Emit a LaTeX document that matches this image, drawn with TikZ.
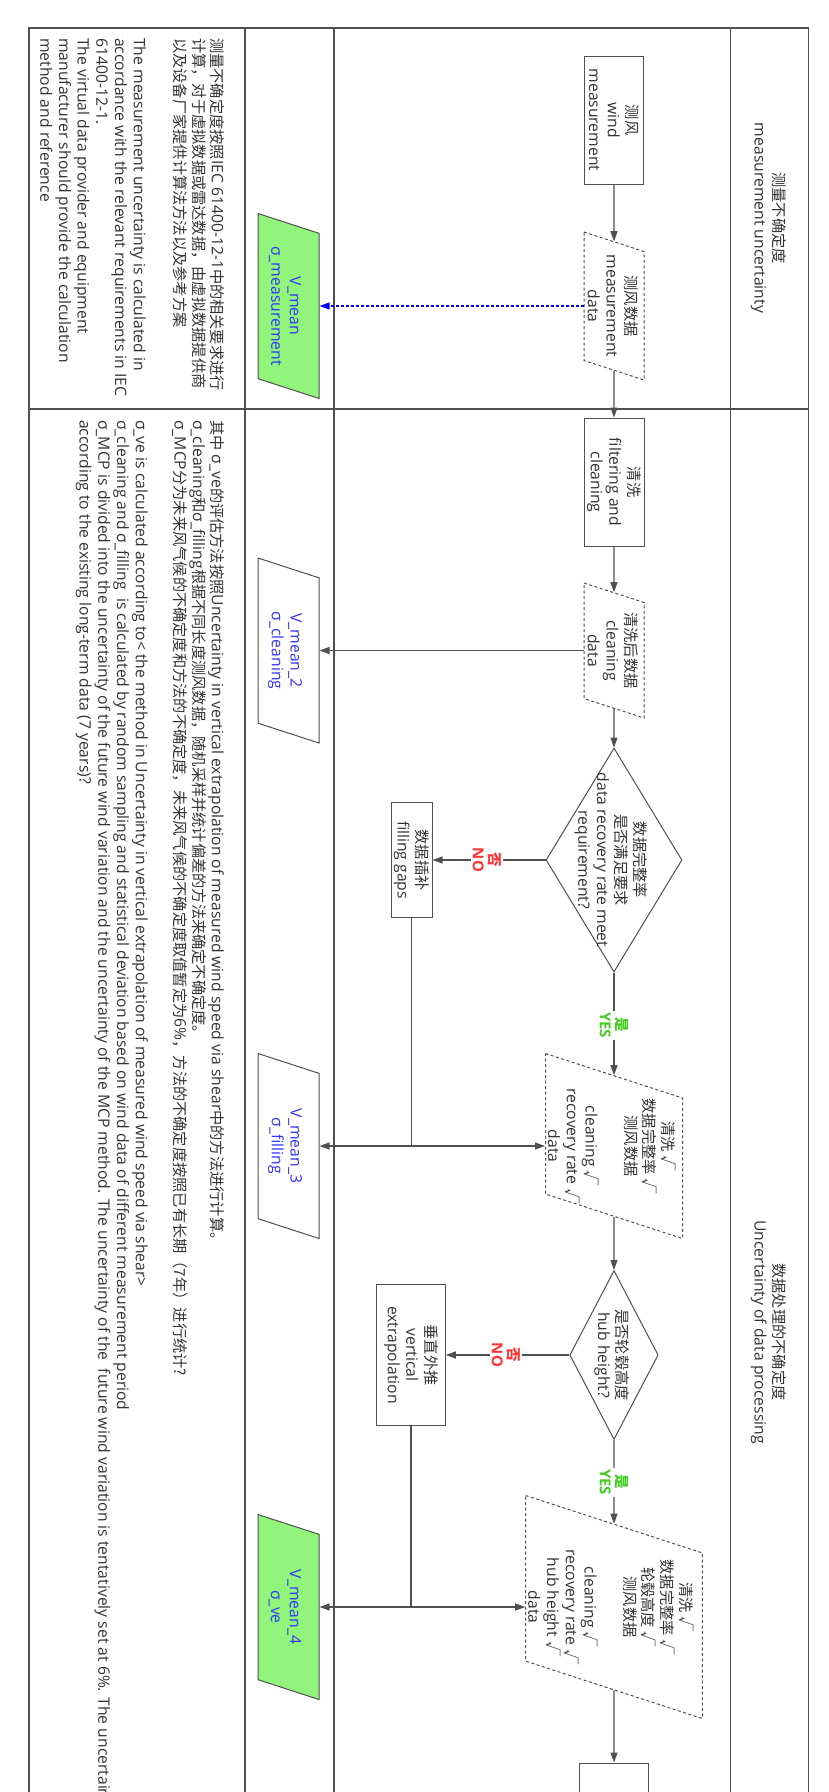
\documentclass[tikz,border=0pt]{standalone}
\usepackage{fontspec}
\setmainfont{Open Sans}
\newfontfamily\cjkfont{Noto Sans CJK SC}[Scale=0.97]
\newcommand\zhtxt[1]{{\cjkfont #1}}
\usetikzlibrary{shapes.geometric,arrows.meta}
\definecolor{lineC}{HTML}{505050}
\definecolor{txtC}{HTML}{333333}
\definecolor{greenF}{HTML}{90F57A}
\definecolor{blueT}{HTML}{3333FF}
\definecolor{noRed}{HTML}{FF3333}
\definecolor{yesGreen}{HTML}{44CC22}
\begin{document}
\begin{tikzpicture}[x=1pt,y=1pt,
  font=\fontsize{15.7}{18.7}\selectfont,
  lane/.style={draw=lineC, line width=1.5pt},
  proc/.style={rectangle, draw=lineC, line width=1pt, fill=white, text=txtC, align=center, inner sep=0pt},
  dataS/.style={trapezium, trapezium left angle=72, trapezium right angle=108, trapezium stretches body,
     draw=lineC, line width=1pt, dash pattern=on 3pt off 2.5pt, fill=white, inner sep=0pt},
  paramS/.style={trapezium, trapezium left angle=72, trapezium right angle=108, trapezium stretches body,
     draw=lineC, line width=1pt, fill=white, inner sep=0pt, minimum width=185pt},
  decS/.style={diamond, draw=lineC, line width=1pt, fill=white, inner sep=0pt},
  txt/.style={text=txtC, align=center, inner sep=0pt},
  ptxt/.style={text=blueT, align=center, inner sep=0pt},
  arr/.style={draw=lineC, line width=1.2pt, -{Triangle[length=10pt,width=7pt]}},
  barr/.style={draw=blue, line width=1.2pt, dash pattern=on 3pt off 2pt, -{Triangle[length=10pt,width=7pt]}},
  link/.style={draw=lineC, line width=1.2pt},
  noLab/.style={text=noRed, font=\fontsize{15}{16.5}\selectfont\bfseries, fill=white, align=center, inner sep=1.5pt},
  yesLab/.style={text=yesGreen, font=\fontsize{15}{16.5}\selectfont\bfseries, fill=white, align=center, inner sep=1.5pt},
  notes/.style={anchor=north west, align=left, text=txtC, inner sep=0pt}
]
\begin{scope}[rotate=-90, transform shape]
\useasboundingbox (0,0) rectangle (1792,828);
% lanes
\draw[lane] (28,29) rectangle (1800,808.5);
\draw[lane, line width=2pt] (28,29) -- (28,808.5);
\foreach \vv in {245,334,730.5} \draw[lane] (28,\vv) -- (1800,\vv);
\draw[lane] (409,29) -- (409,808.5);
% headers
\node[txt] (h1) at (218,768.5) {\zhtxt{测量不确定度}\\measurement uncertainty};
\node[txt] (h2) at (1332,768.5) {\zhtxt{数据处理的不确定度}\\Uncertainty of data processing};
% flow nodes
\node[proc, minimum width=128pt, minimum height=59pt] (wind) at (120,614) {\zhtxt{测风}\\wind\\measurement};
\node[dataS, minimum width=148pt] (mdata) at (306,614) {\rule{0pt}{60pt}};
\node[txt] (mdataT) at (306,613) {\zhtxt{测风数据}\\measurement\\data};
\node[proc, minimum width=128pt, minimum height=60pt] (filt) at (482,614) {\zhtxt{清洗}\\filtering and\\cleaning};
\node[dataS, minimum width=135pt] (cdata) at (650.5,614) {\rule{0pt}{60pt}};
\node[txt] (cdataT) at (650.5,613) {\zhtxt{清洗后数据}\\cleaning\\data};
\node[decS, minimum width=224pt, minimum height=136pt] (dia1) at (860,614) {};
\node[txt] (dia1T) at (860,611) {\zhtxt{数据完整率}\\\zhtxt{是否满足要求}\\data recovery rate meet\\requirement?};
\node[proc, minimum width=115pt, minimum height=41pt] (fill) at (860,411.5) {\zhtxt{数据插补}\\filling gaps};
\node[dataS, minimum width=185pt] (d3) at (1146,614) {\rule{0pt}{137pt}};
\node[txt] (d3T) at (1146,612) {\zhtxt{清洗 √}\\\zhtxt{数据完整率 √}\\\zhtxt{测风数据}\\[21pt]cleaning \zhtxt{√}\\recovery rate \zhtxt{√}\\data};
\node[decS, minimum width=169pt, minimum height=88.5pt] (dia2) at (1355,614) {};
\node[txt] (dia2T) at (1355,612) {\zhtxt{是否轮毂高度}\\hub height?};
\node[proc, minimum width=141pt, minimum height=68.5pt] (vext) at (1355,411) {\zhtxt{垂直外推}\\vertical\\extrapolation};
\node[dataS, minimum width=223pt] (d4) at (1607,614) {\rule{0pt}{176.6pt}};
\node[txt] (d4T) at (1607,611) {\zhtxt{清洗 √}\\\zhtxt{数据完整率 √}\\\zhtxt{轮毂高度 √}\\\zhtxt{测风数据}\\[21pt]cleaning \zhtxt{√}\\recovery rate \zhtxt{√}\\hub height \zhtxt{√}\\data};
\node[proc, minimum width=128pt, minimum height=69pt] (last) at (1827,614) {};
% parameter nodes
\node[paramS, fill=greenF] (vm1) at (306,288.5) {\rule{0pt}{61pt}};
\node[ptxt] (vm1T) at (306,285) {V\_mean\\σ\_measurement};
\node[paramS] (vm2) at (650.5,288.5) {\rule{0pt}{61pt}};
\node[ptxt] (vm2T) at (650.5,285) {V\_mean\_2\\σ\_cleaning};
\node[paramS] (vm3) at (1146,288.5) {\rule{0pt}{61pt}};
\node[ptxt] (vm3T) at (1146,285) {V\_mean\_3\\σ\_filling};
\node[paramS, fill=greenF] (vm4) at (1607,288.5) {\rule{0pt}{61pt}};
\node[ptxt] (vm4T) at (1607,285) {V\_mean\_4\\σ\_ve};
% junctions
\coordinate (j1) at (1146,411.5);
\coordinate (j2) at (1607,411);
% connectors
\draw[arr] (wind) -- (mdata);
\draw[barr] (mdata) -- (vm1);
\draw[arr] (mdata) -- (filt);
\draw[arr] (filt) -- (cdata);
\draw[arr] (cdata) -- (vm2);
\draw[arr] (cdata) -- (dia1);
\draw[arr] (dia1) -- (fill);
\draw[arr] (dia1) -- (d3);
\draw[link] (fill) -- (j1);
\draw[arr] (j1) -- (d3);
\draw[arr] (j1) -- (vm3);
\draw[arr] (d3) -- (dia2);
\draw[arr] (dia2) -- (vext);
\draw[arr] (dia2) -- (d4);
\draw[link] (vext) -- (j2);
\draw[arr] (j2) -- (d4);
\draw[arr] (j2) -- (vm4);
\draw[arr] (d4) -- (last);
% branch labels
\node[noLab] (no1) at (860,487) {\zhtxt{否}\\NO};
\node[yesLab] (yes1) at (1025,614) {\zhtxt{是}\\YES};
\node[noLab] (no2) at (1355,506) {\zhtxt{否}\\NO};
\node[yesLab] (yes2) at (1482,614) {\zhtxt{是}\\YES};
% notes
\node[notes] (n1) at (38,225) {\zhtxt{测量不确定度按照}IEC 61400-12-1\zhtxt{中的相关要求进行}\\
\zhtxt{计算，对于虚拟数据或雷达数据，由虚拟数据提供商}\\
\zhtxt{以及设备厂家提供计算法方法以及参考方案}\\[22pt]
The measurement uncertainty is calculated in\\
accordance with the relevant requirements in IEC\\
61400-12-1.\\
The virtual data provider and equipment\\
manufacturer should provide the calculation\\
method and reference};
\node[notes] (n2) at (420,225) {\zhtxt{其中} σ\_ve\zhtxt{的评估方法按照}Uncertainty in vertical extrapolation of measured wind speed via shear\zhtxt{中的方法进行计算。}\\
σ\_cleaning\zhtxt{和}σ\_filling\zhtxt{根据不同长度测风数据，随机采样并统计偏差的方法来确定不确定度。}\\
σ\_MCP\zhtxt{分为未来风气候的不确定度和方法的不确定度，未来风气候的不确定度取值暂定为}6\%\zhtxt{，方法的不确定度按照已有长期（7年）进行统计?}\\[20pt]
σ\_ve is calculated according to< the method in Uncertainty in vertical extrapolation of measured wind speed via shear>\\
σ\_cleaning and σ\_filling\ \ is calculated by random sampling and statistical deviation based on wind data of different measurement period\\
σ\_MCP is divided into the uncertainty of the future wind variation and the uncertainty of the MCP method. The uncertainty of the\ \ future wind variation is tentatively set at 6\%. The uncertainty\\
according to the existing long-term data (7 years)?};
\end{scope}
\end{tikzpicture}
\end{document}
